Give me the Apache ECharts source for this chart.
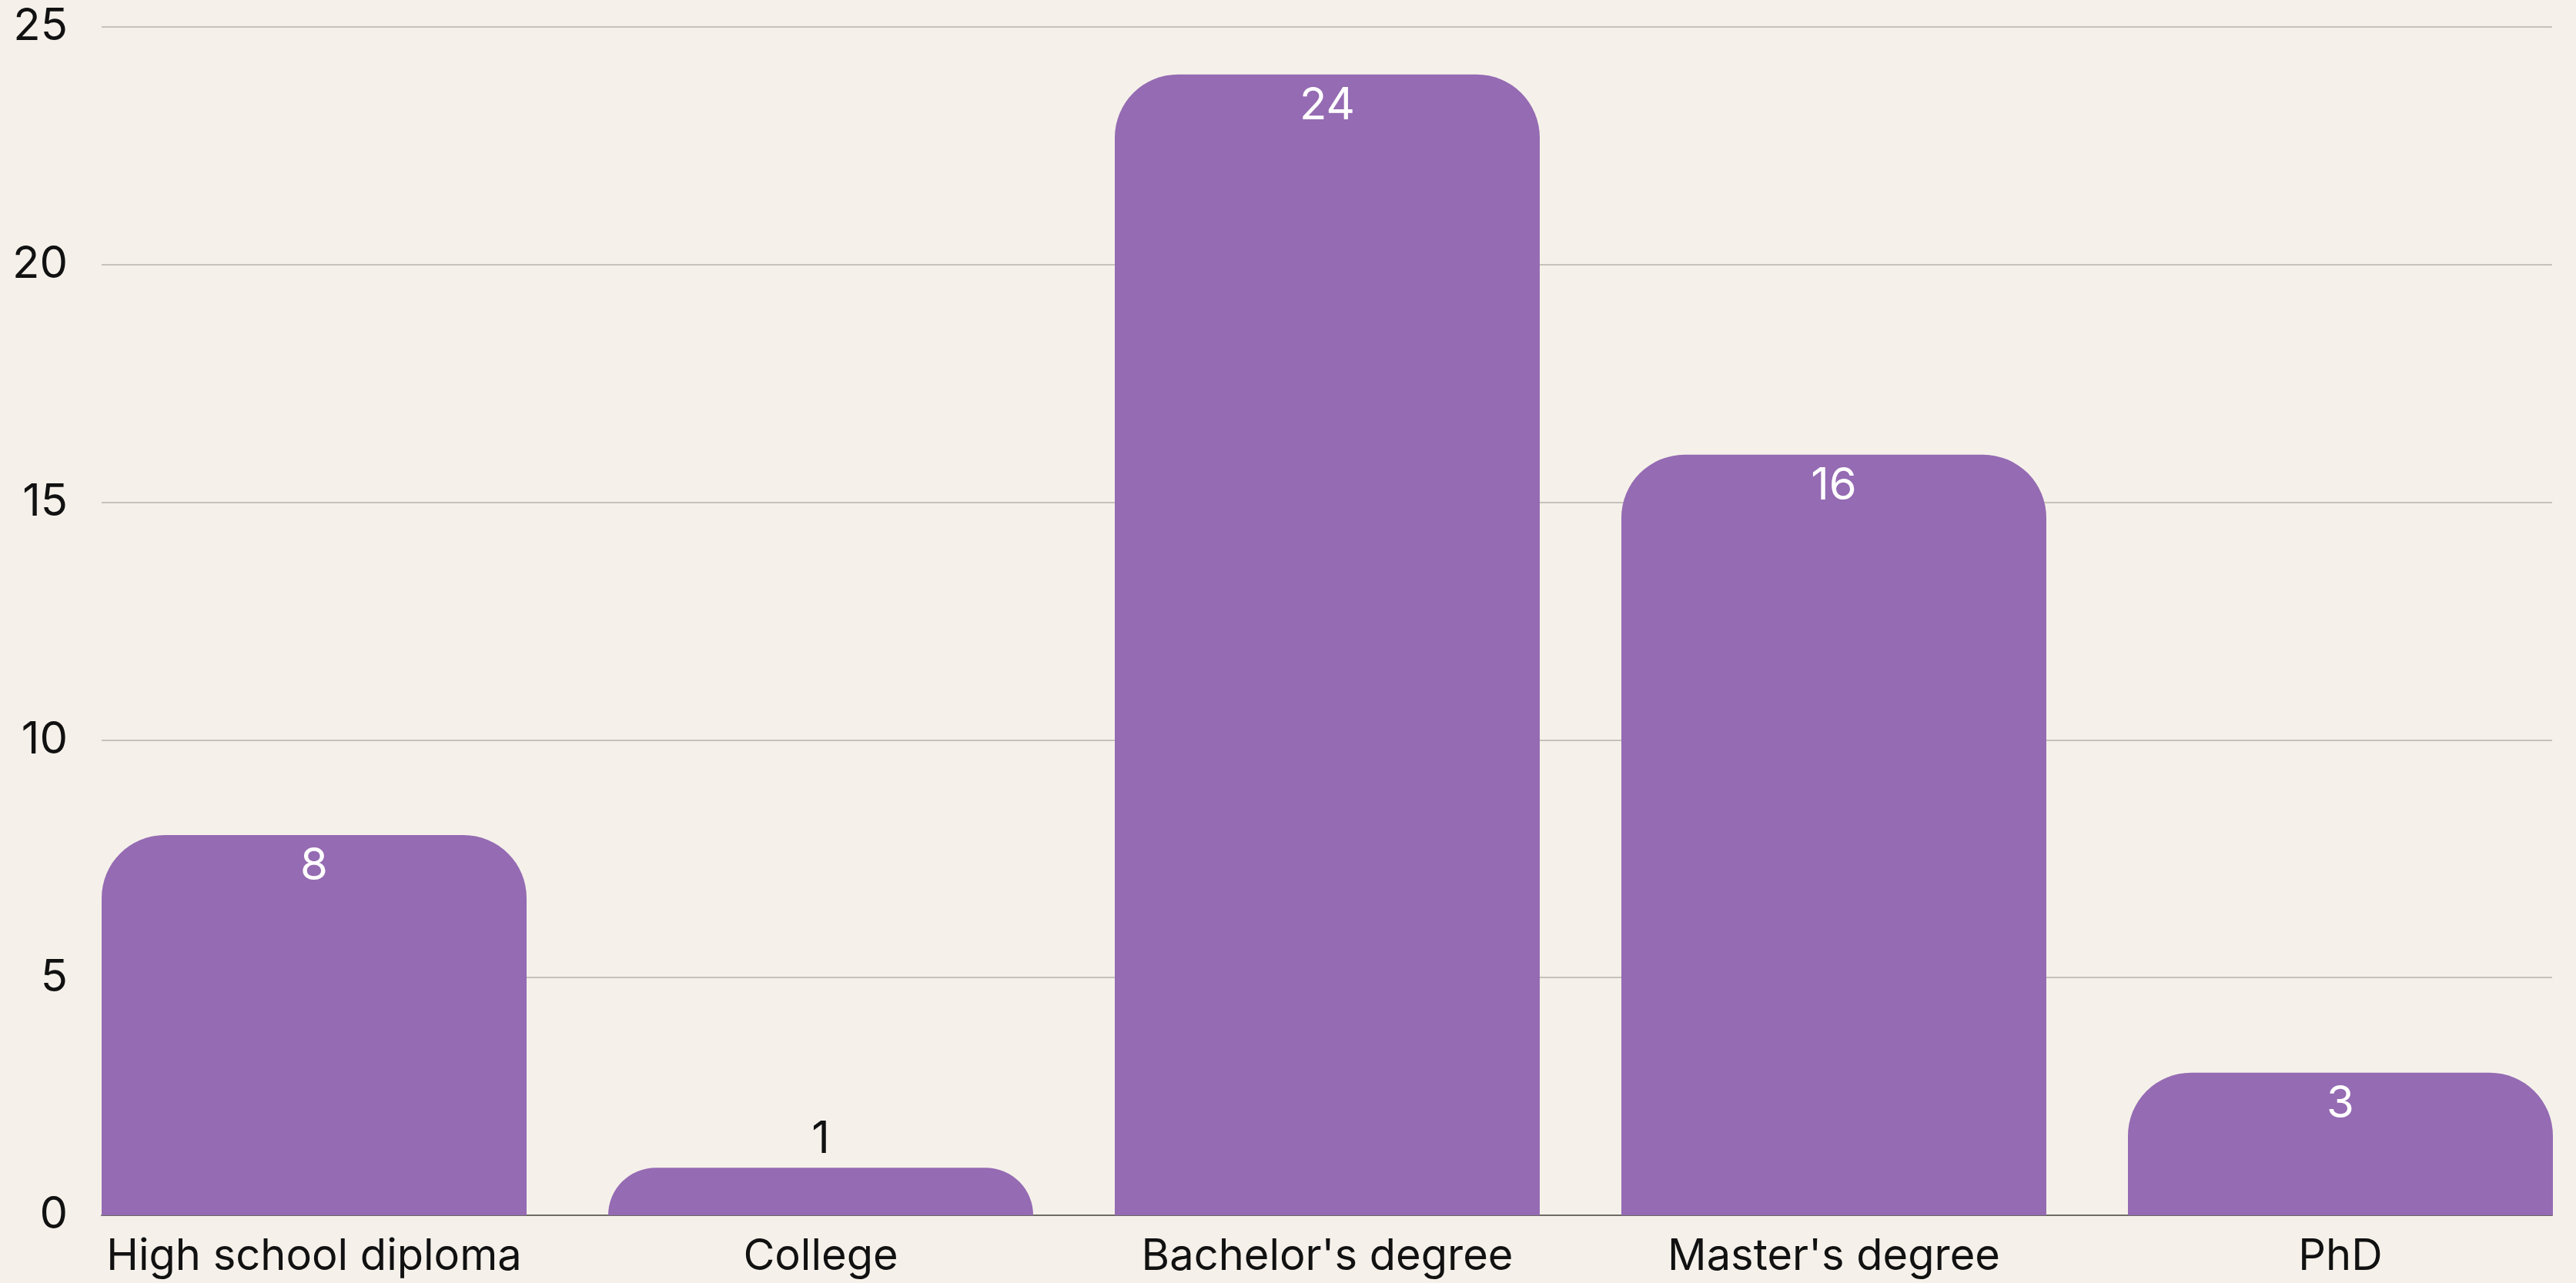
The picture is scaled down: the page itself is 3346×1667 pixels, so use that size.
<!DOCTYPE html>
<html>
<head>
<meta charset="utf-8">
<title>Education level</title>
<script src="https://cdn.jsdelivr.net/npm/echarts@6/dist/echarts.min.js"></script>
<style>
	html, body { margin: 0; padding: 0; background: #f5f1ea; }
	#chart { width: 3346px; height: 1667px; }
</style>
</head>
<body>
<div id="chart"></div>
<script>
	var categories = ["High school diploma", "College", "Bachelor's degree", "Master's degree", "PhD"];
	var counts = [8, 1, 24, 16, 3];
	var yTicks = { min: 0, max: 25, interval: 5 };

	var font = 'Inter, "Noto Sans", sans-serif';
	var ink = '#111111';

	// short bars get their number above the bar, the rest inside at the top
	var barData = counts.map(function(v){
		var item = { value: v };
		if(v < 2){
			item.label = { position: 'top', color: ink, distance: 8 };
		}
		return item;
	});

	var myChart = echarts.init(document.getElementById('chart'));
	myChart.setOption({
		backgroundColor: '#f5f1ea',
		animation: false,
		grid: [
			// grid 0: gridlines, y labels, baseline
			{ left: 132, right: 31, top: 35, bottom: 88, outerBoundsMode: 'none' },
			// grid 1: bars, wider so the outer bars sit flush with the gridlines
			{ left: 79, width: 3290, top: 35, bottom: 88, outerBoundsMode: 'none' }
		],
		xAxis: [{
			gridIndex: 0,
			type: 'value',
			min: 0, max: 1,
			axisLine: { show: true, onZero: false, lineStyle: { color: '#6e6b64', width: 2 } },
			axisTick: { show: false },
			axisLabel: { show: false },
			splitLine: { show: false }
		}, {
			gridIndex: 1,
			type: 'category',
			data: categories,
			axisLine: { show: false },
			axisTick: { show: false },
			axisLabel: { interval: 0, fontFamily: font, fontSize: 56, color: ink, margin: 26 }
		}],
		yAxis: [{
			gridIndex: 0,
			type: 'value',
			min: yTicks.min, max: yTicks.max, interval: yTicks.interval,
			axisLine: { show: false },
			axisTick: { show: false },
			axisLabel: { fontFamily: font, fontSize: 58, color: ink, margin: 44 },
			splitLine: { lineStyle: { color: '#c6c2bb', width: 2 } }
		}, {
			gridIndex: 1,
			type: 'value',
			min: yTicks.min, max: yTicks.max, interval: yTicks.interval,
			show: false,
			splitLine: { show: false }
		}],
		series: [{
			type: 'bar',
			xAxisIndex: 1,
			yAxisIndex: 1,
			data: barData,
			barWidth: 552,
			itemStyle: { color: '#956bb3', borderRadius: [82, 82, 0, 0] },
			label: {
				show: true,
				position: 'insideTop',
				distance: 12,
				fontFamily: font,
				fontSize: 58,
				color: '#ffffff'
			}
		}]
	});
</script>
</body>
</html>
